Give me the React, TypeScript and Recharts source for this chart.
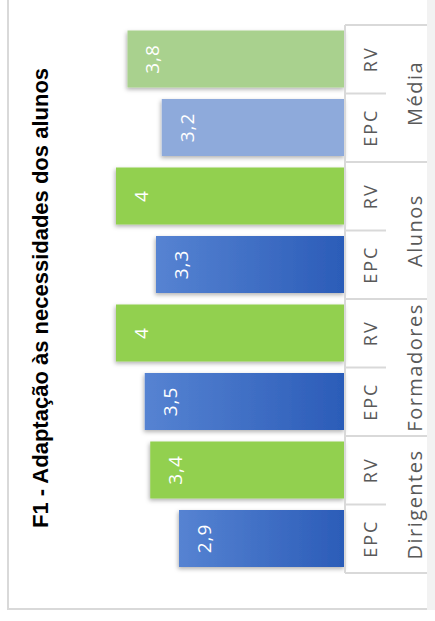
import { BarChart, Bar, XAxis, YAxis, Cell, LabelList } from 'recharts';

// values (rotated Excel chart)
const groups = ['Dirigentes', 'Formadores', 'Alunos', 'Média'];
const subLabels = ['EPC', 'RV'];
const epcValues = [2.9, 3.5, 3.3, 3.2];
const rvValues = [3.4, 4, 4, 3.8];
const title = 'F1 - Adaptação às necessidades dos alunos';

const CHART_W = 621;
const CHART_H = 435;
const margin = { top: 116, right: 25, bottom: 30, left: 48 };
const AXIS_H = 60;
const AXIS_Y = CHART_H - margin.bottom - AXIS_H;

const data = groups.flatMap((g, i) => [
  { key: `${g}|${subLabels[0]}`, value: epcValues[i] },
  { key: `${g}|${subLabels[1]}`, value: rvValues[i] },
]);

const SLOT = (CHART_W - margin.left - margin.right) / data.length;
const labelColor = '#595959';
const lineColor = '#d9d9d9';

const barFill = (key: string) => {
  const [g, s] = key.split('|');
  if (g === 'Média') return s === 'EPC' ? '#8eaadb' : '#a9d18e';
  return s === 'EPC' ? 'url(#epcGrad)' : '#92d050';
};

const CategoryTick = (props: any) => {
  const { x, payload } = props;
  const [g, s] = String(payload.value).split('|');
  const idx = data.findIndex((d) => d.key === payload.value);
  const left = x - SLOT / 2;
  const isFirst = s === subLabels[0];
  return (
    <g>
      <text x={x} y={AXIS_Y + 32} textAnchor="middle" fill={labelColor}
        fontSize={18} letterSpacing={2} fontFamily="'Open Sans', sans-serif">
        {s}
      </text>
      <line x1={left} x2={left} y1={AXIS_Y} y2={isFirst ? AXIS_Y + 82 : AXIS_Y + 41}
        stroke={lineColor} strokeWidth={2} />
      {!isFirst && (
        <text x={left} y={AXIS_Y + 77} textAnchor="middle" fill={labelColor}
          fontSize={20} letterSpacing={1.5} fontFamily="'Open Sans', sans-serif">
          {g}
        </text>
      )}
      {idx === data.length - 1 && (
        <line x1={x + SLOT / 2} x2={x + SLOT / 2} y1={AXIS_Y} y2={AXIS_Y + 82}
          stroke={lineColor} strokeWidth={2} />
      )}
    </g>
  );
};

const ValueLabel = (props: any) => {
  const { x, y, width, value } = props;
  return (
    <text x={x + width / 2} y={y + 32} textAnchor="middle" fill="#ffffff"
      fontSize={19} letterSpacing={1} fontFamily="'Open Sans', sans-serif">
      {String(value).replace('.', ',')}
    </text>
  );
};

export default function App() {
  return (
    <div style={{ position: 'absolute', left: 0, top: 0, width: 435, height: 621, overflow: 'hidden', background: '#fff' }}>
      <div
        style={{
          position: 'absolute', left: 0, top: 0, width: CHART_W, height: CHART_H,
          transformOrigin: '0 0', transform: `translate(0px, ${CHART_W}px) rotate(-90deg)`,
          background: '#fff',
        }}
      >
        <div style={{ position: 'absolute', left: 11, top: 7, width: 700, height: 420, borderLeft: `2px solid ${lineColor}`, borderTop: `2px solid ${lineColor}` }} />
        <div style={{ position: 'absolute', left: 11, top: 427, width: 700, height: 10, background: '#f2f2f2' }} />
        <div style={{ position: 'absolute', left: 0, top: 0 }}>
          <BarChart width={CHART_W} height={CHART_H} data={data} margin={margin}>
            <defs>
              <linearGradient id="epcGrad" x1="0" y1="0" x2="0" y2="1">
                <stop offset="0%" stopColor="#5683d2" />
                <stop offset="100%" stopColor="#2b5cb8" />
              </linearGradient>
              <filter id="barShadow" x="-20%" y="-20%" width="140%" height="140%">
                <feDropShadow dx="-2" dy="-1" stdDeviation="2" floodColor="#000" floodOpacity="0.3" />
              </filter>
            </defs>
            <text x={323} y={48} textAnchor="middle" fontSize={22} fontWeight="bold"
              fill="#000" fontFamily="'Liberation Sans', Arial, sans-serif">
              {title}
            </text>
            <YAxis hide domain={[0, 4]} />
            <XAxis dataKey="key" height={AXIS_H} interval={0} tickLine={false}
              axisLine={{ stroke: lineColor, strokeWidth: 2 }} tick={<CategoryTick />} />
            <Bar dataKey="value" barSize={57} isAnimationActive={false}>
              {data.map((d) => (
                <Cell key={d.key} fill={barFill(d.key)} filter="url(#barShadow)" />
              ))}
              <LabelList dataKey="value" content={<ValueLabel />} />
            </Bar>
          </BarChart>
        </div>
      </div>
    </div>
  );
}
